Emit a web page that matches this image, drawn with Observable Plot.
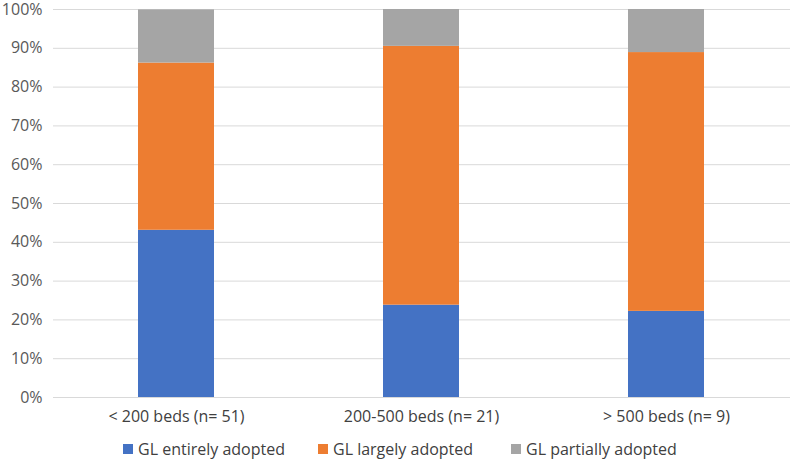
<!DOCTYPE html>
<html>
<head>
<meta charset="utf-8">
<script src="https://cdn.jsdelivr.net/npm/d3@7"></script>
<script src="https://cdn.jsdelivr.net/npm/@observablehq/plot@0.6"></script>
<style>
  html, body { margin: 0; padding: 0; background: #fff; }
  #chart { width: 794px; position: relative; }
  .legend { height: 36px; position: relative;
    font-family: "Open Sans", "Liberation Sans", sans-serif; font-size: 16px; color: #404040; }
  .item { position: absolute; display: flex; align-items: center; top: 12px; height: 24px; white-space: nowrap; }
  .sw { width: 10px; height: 10px; margin-right: 5px; display: inline-block; }
</style>
</head>
<body>
<div id="chart"></div>
<script>
const categories = ["< 200 beds (n= 51)", "200-500 beds (n= 21)", "> 500 beds (n= 9)"];
const series = ["GL entirely adopted", "GL largely adopted", "GL partially adopted"];
const entirely = [43.1, 23.8, 22.2];
const largely = [43.1, 66.7, 66.7];
const partially = [13.7, 9.5, 11.1];
const colors = ["#4472C4", "#ED7D31", "#A5A5A5"];
const yTicks = [0, 10, 20, 30, 40, 50, 60, 70, 80, 90, 100];

const data = [];
categories.forEach((c, i) => {
  data.push({cat: c, series: series[0], value: entirely[i]});
  data.push({cat: c, series: series[1], value: largely[i]});
  data.push({cat: c, series: series[2], value: partially[i]});
});

const plot = Plot.plot({
  width: 794,
  height: 425,
  marginTop: 9,
  marginBottom: 28,
  marginLeft: 53,
  marginRight: 4,
  style: {fontFamily: "'Open Sans', 'Liberation Sans', sans-serif", fontSize: "16px", color: "#595959", overflow: "visible"},
  x: {domain: categories, paddingInner: 0.689, paddingOuter: 0.345, label: null},
  y: {domain: [0, 100], label: null},
  color: {domain: series, range: colors},
  marks: [
    Plot.gridY(yTicks, {stroke: "#d9d9d9", strokeOpacity: 1}),
    Plot.barY(data, Plot.stackY({x: "cat", y: "value", fill: "series", order: series})),
    Plot.axisY(yTicks, {tickSize: 0, tickPadding: 11, tickFormat: d => d + "%", fontSize: 16, fill: "#595959", label: null}),
    Plot.axisX({tickSize: 0, tickPadding: 13, fontSize: 16, fill: "#404040", label: null}),
  ]
});
document.getElementById("chart").appendChild(plot);

const legend = document.createElement("div");
legend.className = "legend";
const lx = [123, 318, 511];
series.forEach((s, i) => {
  const it = document.createElement("div");
  it.className = "item";
  it.style.left = lx[i] + "px";
  it.innerHTML = `<span class="sw" style="background:${colors[i]}"></span>${s}`;
  legend.appendChild(it);
});
document.getElementById("chart").appendChild(legend);
</script>
</body>
</html>
